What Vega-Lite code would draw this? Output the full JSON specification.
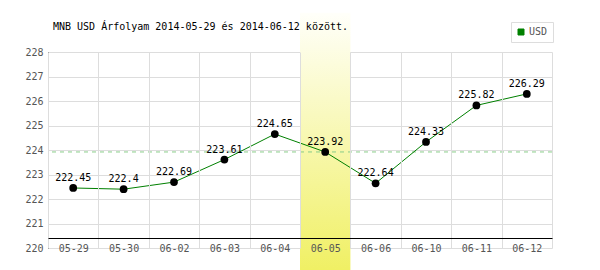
{
  "$schema": "https://vega.github.io/schema/vega-lite/v6.json",
  "width": 504,
  "height": 196,
  "autosize": "none",
  "padding": {"left": 48, "top": 52, "right": 48, "bottom": 22},
  "background": "white",
  "config": {
    "view": {"stroke": null},
    "font": "DejaVu Sans Mono"
  },
  "title": {
    "text": "MNB USD Árfolyam 2014-05-29 és 2014-06-12 között.",
    "anchor": "start",
    "frame": "group",
    "font": "DejaVu Sans Mono",
    "fontSize": 10,
    "fontWeight": "normal",
    "color": "#000000",
    "dx": 5,
    "offset": -19
  },
  "datasets": {
    "rates": [
      {"date": "05-29", "rate": 222.45, "series": "USD"},
      {"date": "05-30", "rate": 222.4, "series": "USD"},
      {"date": "06-02", "rate": 222.69, "series": "USD"},
      {"date": "06-03", "rate": 223.61, "series": "USD"},
      {"date": "06-04", "rate": 224.65, "series": "USD"},
      {"date": "06-05", "rate": 223.92, "series": "USD"},
      {"date": "06-06", "rate": 222.64, "series": "USD"},
      {"date": "06-10", "rate": 224.33, "series": "USD"},
      {"date": "06-11", "rate": 225.82, "series": "USD"},
      {"date": "06-12", "rate": 226.29, "series": "USD"}
    ],
    "highlight": [{"date": "06-05", "lo": 219.1, "hi": 229.6}],
    "ref": [{"level": 223.92}]
  },
  "layer": [
    {
      "data": {"name": "highlight"},
      "mark": {
        "type": "rect",
        "clip": false,
        "color": {
          "gradient": "linear",
          "x1": 0, "y1": 0, "x2": 0, "y2": 1,
          "stops": [
            {"offset": 0, "color": "#fffffa"},
            {"offset": 1, "color": "#f0f064"}
          ]
        }
      },
      "encoding": {
        "x": {"field": "date", "type": "ordinal"},
        "y": {"field": "lo", "type": "quantitative"},
        "y2": {"field": "hi"}
      }
    },
    {
      "data": {"name": "ref"},
      "mark": {"type": "rule", "color": "#88cc88", "strokeWidth": 1, "strokeDash": [4, 4]},
      "encoding": {
        "y": {"field": "level", "type": "quantitative"}
      }
    },
    {
      "data": {"name": "rates"},
      "mark": {"type": "line", "strokeWidth": 1},
      "encoding": {
        "x": {"field": "date", "type": "ordinal"},
        "y": {"field": "rate", "type": "quantitative"},
        "color": {
          "field": "series",
          "type": "nominal",
          "scale": {"range": ["#008000"]},
          "legend": {
            "title": null,
            "orient": "none",
            "legendX": 463,
            "legendY": -30,
            "padding": 5,
            "strokeColor": "#dddddd",
            "symbolType": "square",
            "symbolSize": 36,
            "labelFont": "DejaVu Sans Mono",
            "labelFontSize": 10,
            "labelColor": "#555555",
            "labelOffset": 3,
            "encode": {
              "symbols": {
                "update": {
                  "fill": {"value": "#008000"},
                  "stroke": {"value": "#336633"},
                  "strokeWidth": {"value": 1},
                  "opacity": {"value": 1}
                }
              }
            }
          }
        }
      }
    },
    {
      "data": {"name": "rates"},
      "mark": {"type": "point", "filled": true, "color": "#000000", "opacity": 1, "size": 60},
      "encoding": {
        "x": {"field": "date", "type": "ordinal"},
        "y": {"field": "rate", "type": "quantitative"}
      }
    },
    {
      "data": {"name": "rates"},
      "mark": {"type": "text", "dy": -10, "font": "DejaVu Sans Mono", "fontSize": 10, "color": "#000000"},
      "encoding": {
        "x": {"field": "date", "type": "ordinal"},
        "y": {"field": "rate", "type": "quantitative"},
        "text": {"field": "rate", "type": "nominal"}
      }
    }
  ],
  "resolve": {"scale": {"x": "shared", "y": "shared"}},
  "encoding": {
    "x": {
      "type": "ordinal",
      "scale": {"type": "band", "paddingInner": 0, "paddingOuter": 0},
      "axis": {
        "title": null,
        "labelAngle": 0,
        "ticks": false,
        "tickBand": "extent",
        "offset": -10,
        "domainColor": "#000000",
        "domainWidth": 1,
        "grid": true,
        "gridColor": "#dddddd",
        "labelFont": "DejaVu Sans Mono",
        "labelFontSize": 10,
        "labelColor": "#555555",
        "labelBaseline": "middle",
        "labelPadding": 10
      }
    },
    "y": {
      "type": "quantitative",
      "scale": {"domain": [220, 228], "nice": false, "zero": false},
      "axis": {
        "title": null,
        "values": [220, 221, 222, 223, 224, 225, 226, 227, 228],
        "ticks": false,
        "domainColor": "#000000",
        "grid": true,
        "gridColor": "#dddddd",
        "labelFont": "DejaVu Sans Mono",
        "labelFontSize": 10,
        "labelColor": "#555555",
        "labelPadding": 5
      }
    }
  }
}
